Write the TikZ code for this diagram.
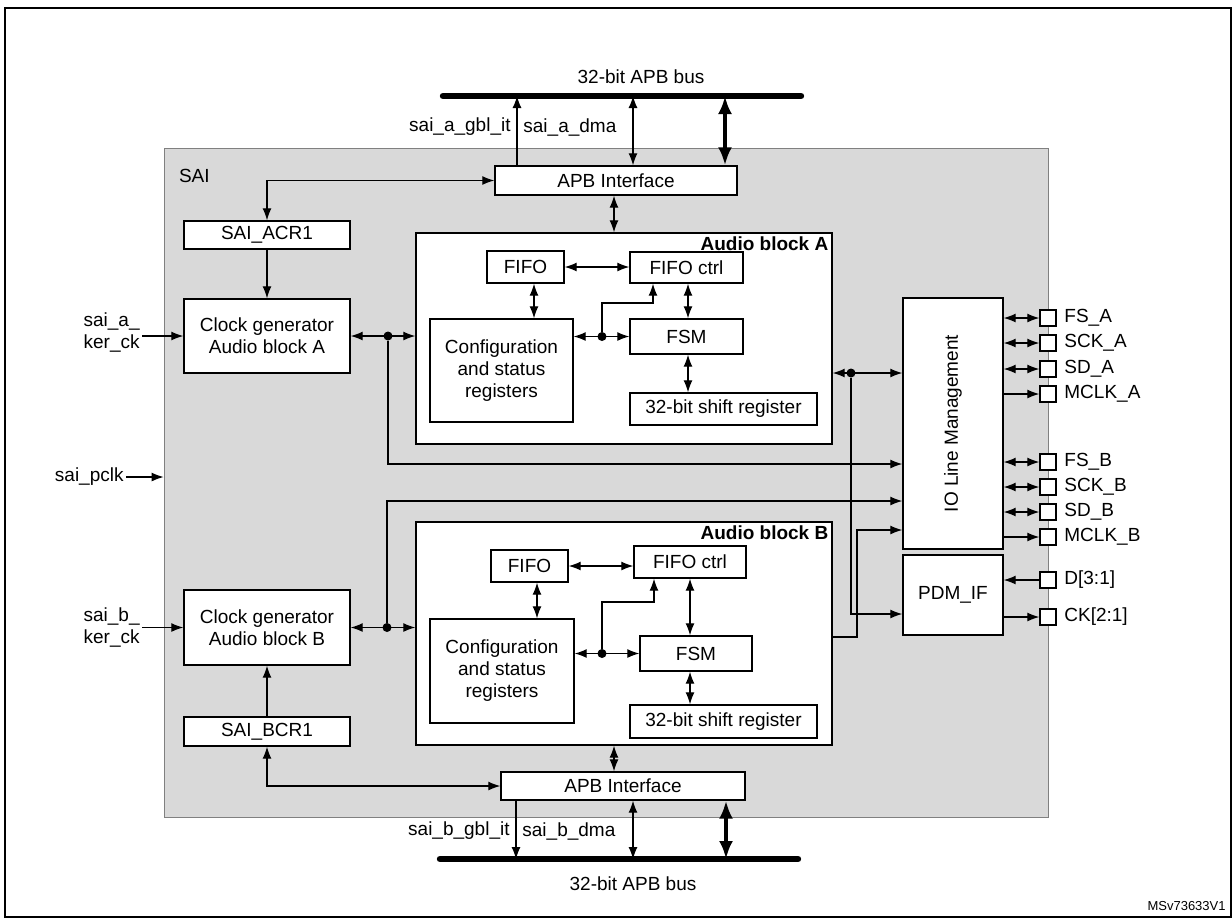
\documentclass[tikz,border=0pt]{standalone}
\usepackage{fontspec}
\setmainfont{Liberation Sans}
\usetikzlibrary{arrows.meta,positioning}
\definecolor{saigray}{gray}{0.85}

\begin{document}
\begin{tikzpicture}[x=0.5pt, y=-0.5pt, >={Latex[length=6pt,width=4.5pt]},
    font=\fontsize{9.5}{11}\selectfont,
    blk/.style={draw, fill=white, line width=0.7pt, inner sep=1pt, align=center},
    pin/.style={draw, fill=white, line width=0.7pt, minimum size=8pt, inner sep=0pt},
    bus/.style={line width=3.2pt, line cap=round},
    fat/.style={line width=2pt, {Latex[length=9pt,width=7pt]}-{Latex[length=9pt,width=7pt]}},
    wire/.style={line width=0.6pt},
    dot/.style={circle, fill, inner sep=0pt, minimum size=4.5pt}]
    \useasboundingbox (0,0) rectangle (1232,918);
    \draw[line width=0.8pt] (5,8) rectangle (1231,917);

    % SAI frame
    \node[draw=gray, fill=saigray, minimum width=442pt, minimum height=334.5pt, inner sep=0pt] (sai) at (606,482.5) {};
    \node[anchor=west] (sailbl) at (172,176) {SAI};

    % APB buses
    \coordinate (busA1) at (443,96);  \coordinate (busA2) at (801,96);
    \coordinate (busB1) at (440,859); \coordinate (busB2) at (798,859);
    \draw[bus] (busA1) -- (busA2);
    \draw[bus] (busB1) -- (busB2);
    \node (busAlbl) at (641,77) {32-bit APB bus};
    \node (busBlbl) at (633,884) {32-bit APB bus};

    % Blocks, top half
    \node[blk, minimum width=121pt, minimum height=14.5pt] (apbA) at (616,180.5) {APB Interface};
    \node[blk, minimum width=83pt, minimum height=14pt] (acr1) at (267,235) {SAI\_ACR1};
    \node[blk, minimum width=83pt, minimum height=37pt] (clkA) at (267,336) {Clock generator\\Audio block A};
    \node[blk, minimum width=208pt, minimum height=105.5pt] (blkA) at (624,338.5) {};
    \node[anchor=north east, inner sep=2pt, font=\fontsize{9.5}{11}\selectfont\bfseries] (blkAlbl) at (blkA.north east) {Audio block A};
    \node[blk, minimum width=38.5pt, minimum height=16pt] (fifoA) at (525.5,267) {FIFO};
    \node[blk, minimum width=56.5pt, minimum height=15.5pt] (fctlA) at (686.5,267.5) {FIFO ctrl};
    \node[blk, minimum width=71.5pt, minimum height=51.5pt] (cfgA) at (501.5,370.5) {Configuration\\and status\\registers};
    \node[blk, minimum width=56.5pt, minimum height=17.5pt] (fsmA) at (686.5,336.5) {FSM};
    \node[blk, minimum width=93.5pt, minimum height=16pt] (shA) at (723.5,409) {32-bit shift register};

    % Blocks, bottom half
    \node[blk, minimum width=122pt, minimum height=14pt] (apbB) at (623,786) {APB Interface};
    \node[blk, minimum width=83pt, minimum height=14.5pt] (bcr1) at (267,731.5) {SAI\_BCR1};
    \node[blk, minimum width=83pt, minimum height=37.5pt] (clkB) at (267,627.5) {Clock generator\\Audio block B};
    \node[blk, minimum width=208pt, minimum height=111.5pt] (blkB) at (624,633.5) {};
    \node[anchor=north east, inner sep=2pt, font=\fontsize{9.5}{11}\selectfont\bfseries] (blkBlbl) at (blkB.north east) {Audio block B};
    \node[blk, minimum width=38.5pt, minimum height=16pt] (fifoB) at (529.5,566) {FIFO};
    \node[blk, minimum width=56pt, minimum height=16pt] (fctlB) at (690,562) {FIFO ctrl};
    \node[blk, minimum width=72pt, minimum height=52pt] (cfgB) at (502,671) {Configuration\\and status\\registers};
    \node[blk, minimum width=56pt, minimum height=17.5pt] (fsmB) at (696,653.5) {FSM};
    \node[blk, minimum width=93.5pt, minimum height=16.5pt] (shB) at (723.5,721.5) {32-bit shift register};

    % IO side
    \node[blk, minimum width=50pt, minimum height=125.5pt] (io) at (953,423.5) {};
    \node[rotate=90] (iolbl) at (io.center) {IO Line Management};
    \node[blk, minimum width=50pt, minimum height=40pt] (pdm) at (953,595) {PDM\_IF};

    % Bus connections
    \draw[wire,->] (517,0 |- apbA.north) -- (517,0 |- busA1);
    \draw[wire,<->] (633,0 |- apbA.north) -- (633,0 |- busA1);
    \draw[fat] (725,0 |- apbA.north) -- (725,0 |- busA1);
    \node[anchor=east, inner sep=1pt] (gblA) at (513,127) {sai\_a\_gbl\_it};
    \node[anchor=west, inner sep=1pt] (dmaA) at (521,127) {sai\_a\_dma};
    \draw[wire,->] (516,0 |- apbB.south) -- (516,0 |- busB1);
    \draw[wire,<->] (633,0 |- apbB.south) -- (633,0 |- busB1);
    \draw[fat] (726,0 |- apbB.south) -- (726,0 |- busB1);
    \node[anchor=east, inner sep=1pt] (gblB) at (512,831) {sai\_b\_gbl\_it};
    \node[anchor=west, inner sep=1pt] (dmaB) at (520,831) {sai\_b\_dma};

    % Register and clock paths
    \draw[wire,<->] (acr1.north) |- (apbA.west);
    \draw[wire,->] (acr1) -- (clkA);
    \draw[wire,<->] (apbA.south -| 614,0) -- (blkA.north -| 614,0);
    \draw[wire,<->] (bcr1.south) |- (apbB.west);
    \draw[wire,->] (bcr1) -- (clkB);
    \draw[wire,<->] (blkB.south -| 614,0) -- (apbB.north -| 614,0);

    \node[align=left, anchor=east, inner sep=1pt] (kerA) at (142,332) {sai\_a\_\\ker\_ck};
    \draw[wire,->] (kerA.east |- clkA.west) -- (clkA.west);
    \node[align=left, anchor=east, inner sep=1pt] (kerB) at (142,627) {sai\_b\_\\ker\_ck};
    \draw[wire,->] (kerB.east |- clkB.west) -- (clkB.west);
    \node[anchor=east, inner sep=1pt] (pclk) at (126,477) {sai\_pclk};
    \draw[wire,->] (pclk.east) -- (pclk.east -| sai.west);

    % Inside audio block A
    \draw[wire,<->] (fifoA.east) -- (fifoA.east -| fctlA.west);
    \draw[wire,<->] (534,0 |- fifoA.south) -- (534,0 |- cfgA.north);
    \draw[wire,<->] (688,0 |- fctlA.south) -- (688,0 |- fsmA.north);
    \draw[wire,<->] (688,0 |- fsmA.south) -- (688,0 |- shA.north);
    \draw[wire,<->] (cfgA.east |- fsmA.west) -- (fsmA.west);
    \node[dot] (dA) at (602,0 |- fsmA.west) {};
    \draw[wire,->] (dA) |- (653,303) -- (653,0 |- fctlA.south);

    % Inside audio block B
    \draw[wire,<->] (fifoB.east) -- (fifoB.east -| fctlB.west);
    \draw[wire,<->] (537,0 |- fifoB.south) -- (537,0 |- cfgB.north);
    \draw[wire,<->] (690,0 |- fctlB.south) -- (690,0 |- fsmB.north);
    \draw[wire,<->] (690,0 |- fsmB.south) -- (690,0 |- shB.north);
    \draw[wire,<->] (cfgB.east |- fsmB.west) -- (fsmB.west);
    \node[dot] (dB) at (602,0 |- fsmB.west) {};
    \draw[wire,->] (dB) |- (654,602) -- (654,0 |- fctlB.south);

    % Clock generators to audio blocks and IO
    \draw[wire,<->] (clkA.east) -- (clkA.east -| blkA.west);
    \node[dot] (dcA) at (388,0 |- clkA.east) {};
    \draw[wire,->] (dcA) |- (io.west |- 0,464);
    \draw[wire,<->] (clkB.east) -- (clkB.east -| blkB.west);
    \node[dot] (dcB) at (387,0 |- clkB.east) {};
    \draw[wire,->] (dcB) |- (io.west |- 0,501);

    % Audio blocks to IO and PDM
    \draw[wire,<->] (blkA.east |- 0,373) -- (io.west |- 0,373);
    \node[dot] (dio) at (851,373) {};
    \draw[wire,->] (dio) |- (pdm.west |- 0,614);
    \draw[wire,->] (blkB.east |- 0,637) -| (857,530) -- (io.west |- 0,530);

    % Pins
    \foreach \nm/\yy/\tip in {FS_A/318/<->, SCK_A/343/<->, SD_A/369/<->, MCLK_A/394/->,
                               FS_B/462/<->, SCK_B/487/<->, SD_B/512/<->, MCLK_B/537/->} {
        \node[pin] (p\nm) at (1048,\yy) {};
        \node[anchor=west, inner sep=1pt] (l\nm) at (1062,\yy) {\detokenize\expandafter{\nm}};
        \draw[wire,\tip] (io.east |- p\nm) -- (p\nm.west);
    }
    \node[pin] (pD) at (1048,580) {};
    \node[anchor=west, inner sep=1pt] (lD) at (1062,580) {D[3:1]};
    \draw[wire,->] (pD.west) -- (pD.west -| pdm.east);
    \node[pin] (pCK) at (1048,617) {};
    \node[anchor=west, inner sep=1pt] (lCK) at (1062,617) {CK[2:1]};
    \draw[wire,->] (pdm.east |- pCK) -- (pCK.west);

    \node[anchor=south east, inner sep=1pt, font=\fontsize{6.5}{7}\selectfont] (ref) at (1228,913) {MSv73633V1};
\end{tikzpicture}
\end{document}
